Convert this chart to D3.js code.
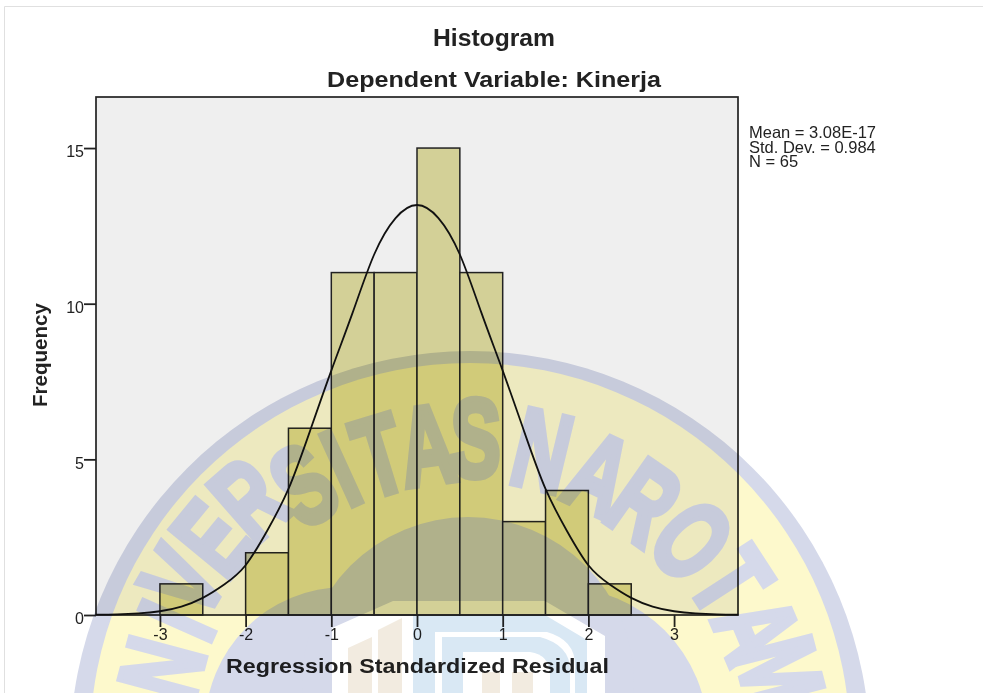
<!DOCTYPE html>
<html>
<head>
<meta charset="utf-8">
<script src="https://cdn.jsdelivr.net/npm/d3@7"></script>
<style>
  html, body { margin: 0; background: #fff; }
  text { font-family: "Liberation Sans", Arial, sans-serif; fill: #222; }
</style>
</head>
<body>
<script>
// histogram values
const binStart = [-3, -2.5, -2, -1.5, -1, -0.5, 0, 0.5, 1, 1.5, 2];
const binCount = [1, 0, 2, 6, 11, 11, 15, 11, 3, 4, 1];
const binWidth = 0.5;

// normal curve
const curveX = [-3.75, -3.5, -3.25, -3, -2.75, -2.5, -2.25, -2, -1.75, -1.5, -1.25, -1, -0.75, -0.5, -0.25, 0,
  0.25, 0.5, 0.75, 1, 1.25, 1.5, 1.75, 2, 2.25, 2.5, 2.75, 3, 3.25, 3.5, 3.75];
const curveY = [0.01, 0.02, 0.05, 0.12, 0.27, 0.55, 0.98, 1.6, 2.7, 4.05, 5.9, 7.85, 9.72, 11.58, 12.75, 13.17,
  12.75, 11.58, 9.72, 7.85, 5.9, 4.05, 2.7, 1.6, 0.98, 0.55, 0.27, 0.12, 0.05, 0.02, 0.01];

const xTicks = [-3, -2, -1, 0, 1, 2, 3];
const yTicks = [0, 5, 10, 15];
const statLines = ["Mean = 3.08E-17", "Std. Dev. = 0.984", "N = 65"];

const width = 983, height = 693;
const margin = {top: 97, right: 245, bottom: 78, left: 96};
const innerWidth = width - margin.left - margin.right;
const innerHeight = height - margin.top - margin.bottom;

const svg = d3.select("body").append("svg")
  .attr("width", width)
  .attr("height", height)
  .style("display", "block");

// faint page edge of the screenshot
svg.append("path")
  .attr("d", "M4.5,693V6.5H983")
  .attr("fill", "none")
  .attr("stroke", "#e0e0e0");

const g = svg.append("g").attr("transform", `translate(${margin.left},${margin.top})`);

const x = d3.scaleLinear().domain([-3.746, 3.746]).range([0, innerWidth]);
const y = d3.scaleLinear().domain([0, 16.64]).range([innerHeight, 0]);

g.append("rect")
  .attr("width", innerWidth)
  .attr("height", innerHeight)
  .attr("fill", "#efefef");

// bars
g.selectAll(".bar")
  .data(binStart.map((s, i) => ({s, n: binCount[i]})).filter(d => d.n > 0))
  .join("rect")
    .attr("class", "bar")
    .attr("x", d => x(d.s))
    .attr("y", d => y(d.n))
    .attr("width", d => x(d.s + binWidth) - x(d.s))
    .attr("height", d => innerHeight - y(d.n))
    .attr("fill", "#d3d097")
    .attr("stroke", "#222")
    .attr("stroke-width", 1.5);

// frame
g.append("rect")
  .attr("width", innerWidth)
  .attr("height", innerHeight)
  .attr("fill", "none")
  .attr("stroke", "#222")
  .attr("stroke-width", 1.7);

// curve
const line = d3.line().x(d => x(d[0])).y(d => y(d[1])).curve(d3.curveNatural);
g.append("path")
  .datum(curveX.map((v, i) => [v, curveY[i]]))
  .attr("d", line)
  .attr("fill", "none")
  .attr("stroke", "#111")
  .attr("stroke-width", 1.8);

// axes
const xAxis = g.append("g")
  .attr("transform", `translate(0,${innerHeight})`)
  .call(d3.axisBottom(x).tickValues(xTicks).tickSize(12).tickFormat(d => String(d)));
const yAxis = g.append("g")
  .call(d3.axisLeft(y).tickValues(yTicks).tickSize(12).tickFormat(d => String(d)));
xAxis.select(".domain").remove();
yAxis.select(".domain").remove();
g.selectAll(".tick line").attr("stroke", "#222").attr("stroke-width", 1.8);
xAxis.selectAll("text").attr("y", 14).attr("font-size", 16).attr("fill", "#222");
yAxis.selectAll("text").attr("x", -12).attr("dy", "0.55em").attr("font-size", 16).attr("fill", "#222");

// titles
function label(txt, cx, cy, size, len) {
  return svg.append("text")
    .attr("x", cx).attr("y", cy)
    .attr("text-anchor", "middle")
    .attr("font-size", size)
    .attr("font-weight", "bold")
    .attr("textLength", len)
    .attr("lengthAdjust", "spacingAndGlyphs")
    .text(txt);
}
label("Histogram", 494, 46, 23, 122);
label("Dependent Variable: Kinerja", 494, 87, 22, 334);
label("Regression Standardized Residual", 417.5, 673, 20, 383);
label("Frequency", 0, 0, 21, 104).attr("transform", "translate(47,355) rotate(-90)");

svg.append("g").selectAll("text")
  .data(statLines)
  .join("text")
    .attr("x", 749)
    .attr("y", (d, i) => 138 + i * 14.5)
    .attr("font-size", 16.5)
    .text(d => d);

// watermark laid over everything, like the scanned page
const wm = svg.append("g")
  .attr("class", "wm")
  .style("mix-blend-mode", "multiply");

const blue = "#d5d9ea", yellow = "#fdf9cc", white = "#ffffff", tan = "#f2ebe0", sky = "#d9e8f4";
const circle = (cx, cy, r, fill) => wm.append("circle").attr("cx", cx).attr("cy", cy).attr("r", r).attr("fill", fill);
const poly = (d, fill) => wm.append("path").attr("d", d).attr("fill", fill);

circle(470, 751, 400, blue);
circle(470, 743, 380, yellow);

// letters round the ring: [letter, angle in degrees, radius of baseline]
const wmLetters = [
  ["N", -75, 280], ["I", -66, 282], ["V", -59.5, 295], ["E", -50.5, 295], ["R", -41.3, 296], ["S", -32, 275],
  ["I", -24.5, 272], ["T", -17, 270], ["A", -8, 270], ["S", 1, 274],
  ["N", 13.5, 270], ["A", 25, 267], ["R", 35, 265], ["O", 46.5, 267], ["T", 57, 272], ["A", 67, 273], ["M", 75.5, 281], ["A", 86, 290]
];
wm.selectAll("text")
  .data(wmLetters)
  .join("text")
    .attr("transform", d => `translate(470,751) rotate(${d[1]}) translate(0,${-d[2]}) scale(0.68,1)`)
    .attr("text-anchor", "middle")
    .attr("font-size", 112)
    .attr("font-weight", "bold")
    .style("fill", blue)
    .style("stroke", blue)
    .style("stroke-width", 6)
    .text(d => d[0]);

circle(345, 727, 140, blue);
circle(560, 735, 148, blue);
circle(468, 683, 166, blue);

// shield in the middle
poly("M332,693V628L393,601H545L605,636V693Z", white);
poly("M348,693V648L372,637V693Z", tan);
poly("M378,693V630L402,618V693Z", tan);
poly("M413,693V615H545L587,640V693Z", sky);
poly("M435,693V632H547Q575,640 575,665V693Z", white);
poly("M442,693V637H540Q570,645 570,670V693Z", sky);
poly("M463,693V652H530Q550,655 550,675V693Z", white);
poly("M482,693V672H500V693Z", tan);
poly("M512,693V672H533V693Z", tan);
</script>
</body>
</html>
